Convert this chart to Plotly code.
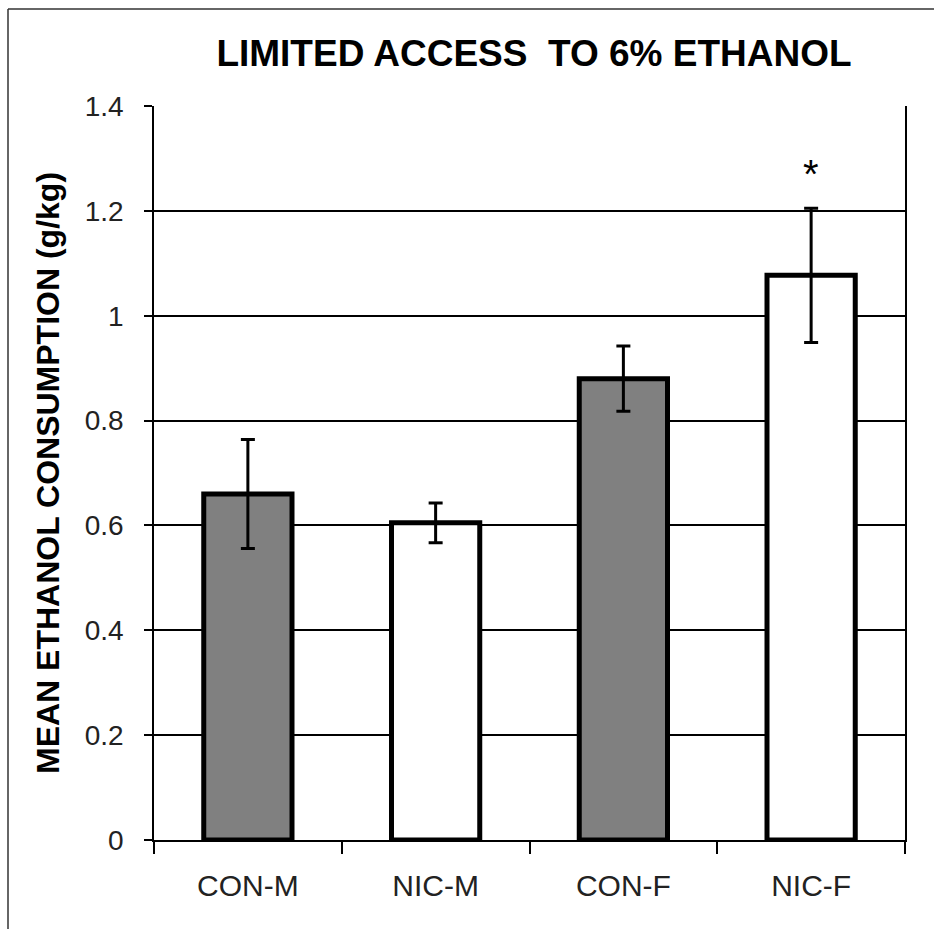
import plotly.graph_objects as go

# Group means and SEM (g/kg) for limited access to 6% ethanol
groups = ["CON-M", "NIC-M", "CON-F", "NIC-F"]
means = [0.66, 0.605, 0.88, 1.077]
sem = [0.104, 0.038, 0.062, 0.128]
bar_colors = ["#808080", "#ffffff", "#808080", "#ffffff"]
sig_group = "NIC-F"
sig_label = "*"
y_ticks = [0, 0.2, 0.4, 0.6, 0.8, 1.0, 1.2, 1.4]
y_tick_text = ["0", "0.2", "0.4", "0.6", "0.8", "1", "1.2", "1.4"]

W, H = 934, 929
ML, MR, MT, MB = 154, 29, 106, 89
FONT = "Liberation Sans, Arial, sans-serif"

fig = go.Figure()
fig.add_trace(go.Bar(
    x=groups,
    y=means,
    width=0.47,
    marker=dict(color=bar_colors, line=dict(color="#000000", width=5)),
    error_y=dict(type="data", array=sem, visible=True,
                 color="#000000", thickness=3, width=7),
    showlegend=False,
))

# significance marker above the NIC-F error bar
i_sig = groups.index(sig_group)
fig.add_annotation(
    x=sig_group, y=means[i_sig] + sem[i_sig],
    text=sig_label, showarrow=False, yanchor="bottom", yshift=10,
    font=dict(family=FONT, size=40, color="#000000"),
)

# outer frame (top and left edges)
pw, ph = W - ML - MR, H - MT - MB
x_left = (8 - ML) / pw
y_top = 1 + (MT - 9) / ph
fig.add_shape(type="line", xref="paper", yref="paper",
              x0=x_left, x1=(W + 5 - ML) / pw, y0=y_top, y1=y_top,
              line=dict(color="#333333", width=1.5))
fig.add_shape(type="line", xref="paper", yref="paper",
              x0=x_left, x1=x_left, y0=y_top, y1=-(MB + 5) / ph,
              line=dict(color="#333333", width=1.5))

fig.update_layout(
    width=W, height=H,
    margin=dict(l=ML, r=MR, t=MT, b=MB, pad=0),
    paper_bgcolor="#ffffff", plot_bgcolor="#ffffff",
    title=dict(text="LIMITED ACCESS  TO 6% ETHANOL",
               x=534 / W, xanchor="center", xref="container",
               y=1 - 53 / H, yanchor="middle", yref="container",
               font=dict(family=FONT, size=37, color="#000000", weight="bold")),
    bargap=0.53,
)

fig.update_xaxes(
    type="category",
    tickson="boundaries",
    ticks="outside", ticklen=12, tickwidth=1.5, tickcolor="#000000",
    showline=True, linecolor="#000000", linewidth=1.5,
    showgrid=False,
    tickfont=dict(family=FONT, size=30, color="#222222"),
    ticklabelstandoff=18,
)
fig.update_yaxes(
    range=[0, 1.4],
    tickvals=y_ticks, ticktext=y_tick_text,
    ticks="outside", ticklen=8, tickwidth=1.5, tickcolor="#000000",
    showline=True, linecolor="#000000", linewidth=1.5, mirror=True,
    showgrid=True, gridcolor="#000000", gridwidth=1.5,
    zeroline=False,
    tickfont=dict(family=FONT, size=28, color="#222222"),
    ticklabelstandoff=15,
    title=dict(text="MEAN ETHANOL CONSUMPTION (g/kg)", standoff=16,
               font=dict(family=FONT, size=32, color="#000000", weight="bold")),
)

fig.write_html("out.html")
